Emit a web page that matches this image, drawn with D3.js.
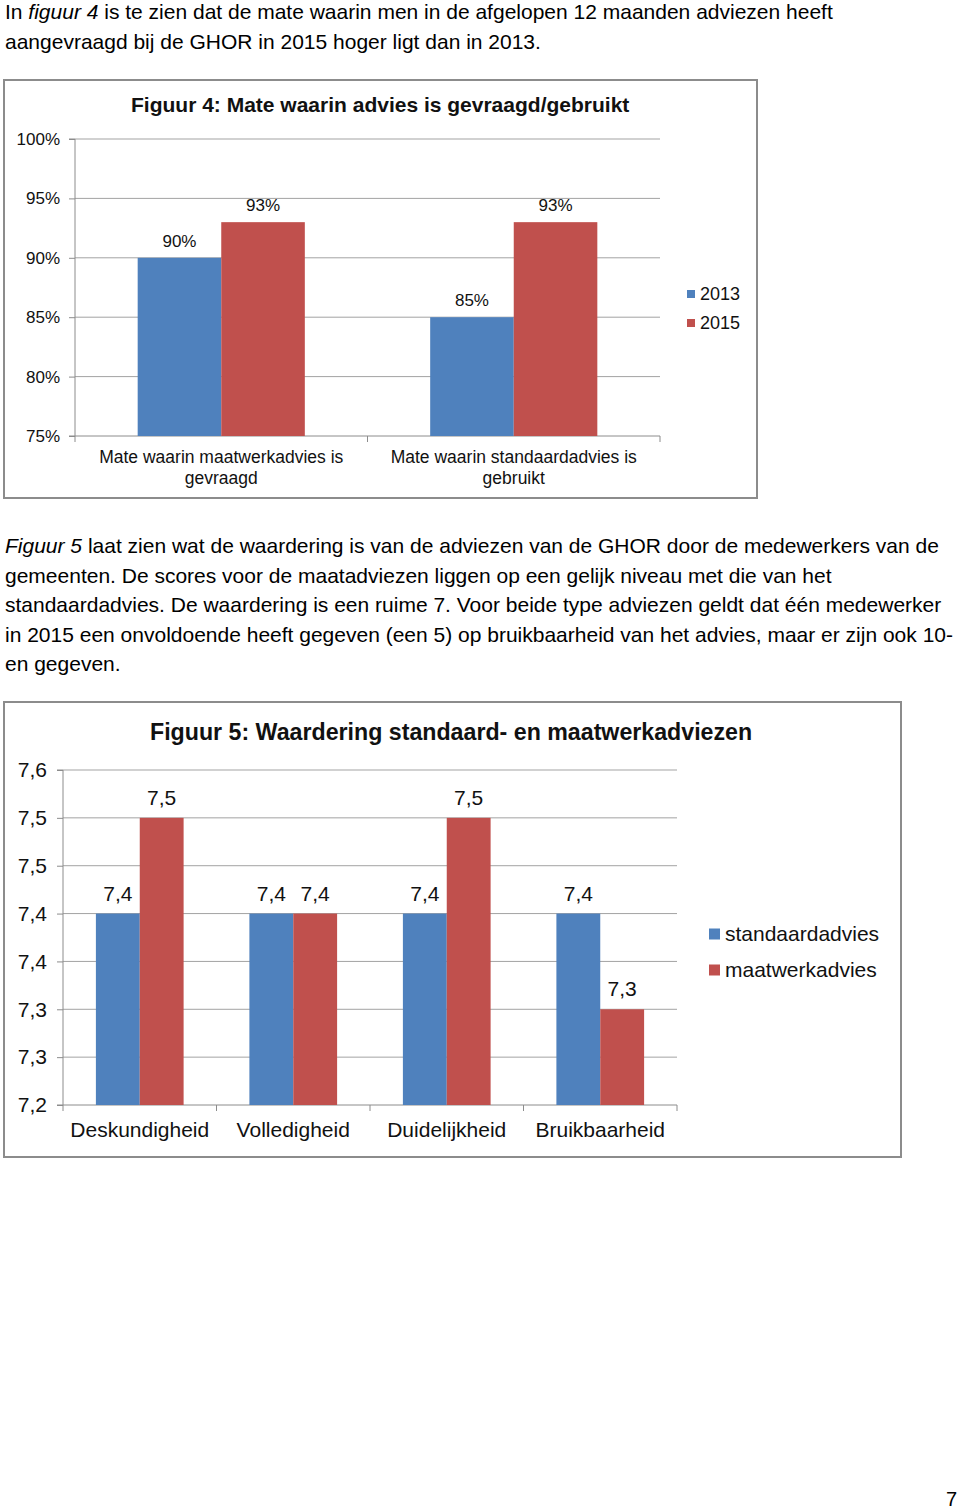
<!DOCTYPE html>
<html>
<head>
<meta charset="utf-8">
<script src="https://cdn.jsdelivr.net/npm/d3@7"></script>
<style>
  html, body { margin: 0; padding: 0; background: #fff; }
  svg { display: block; font-family: "Liberation Sans", Arial, sans-serif; }
</style>
</head>
<body>
<svg id="page" width="960" height="1509"></svg>
<script>
// ---- data ----
const fig4Categories = [
    ["Mate waarin maatwerkadvies is", "gevraagd"],
    ["Mate waarin standaardadvies is", "gebruikt"]
];
const fig4Series = ["2013", "2015"];
const fig4Values2013 = [90, 85];
const fig4Values2015 = [93, 93];
const fig4Ticks = [75, 80, 85, 90, 95, 100];
const fig4TickLabels = ["75%", "80%", "85%", "90%", "95%", "100%"];

const fig5Categories = [["Deskundigheid"], ["Volledigheid"], ["Duidelijkheid"], ["Bruikbaarheid"]];
const fig5Series = ["standaardadvies", "maatwerkadvies"];
const fig5Standaard = [7.4, 7.4, 7.4, 7.4];
const fig5Maatwerk = [7.5, 7.4, 7.5, 7.3];
const fig5Ticks = [7.2, 7.25, 7.3, 7.35, 7.4, 7.45, 7.5, 7.55];
const fig5TickLabels = ["7,2", "7,3", "7,3", "7,4", "7,4", "7,5", "7,5", "7,6"];

const colors = ["#4f81bd", "#c0504d"];

const svg = d3.select("#page");

// ---- body text ----
const paragraphs = [
    { x: 5, y: 19, lh: 29.5, lines: [
        [["In ", false], ["figuur 4", true], [" is te zien dat de mate waarin men in de afgelopen 12 maanden adviezen heeft", false]],
        [["aangevraagd bij de GHOR in 2015 hoger ligt dan in 2013.", false]]
    ]},
    { x: 5, y: 553, lh: 29.6, lines: [
        [["Figuur 5", true], [" laat zien wat de waardering is van de adviezen van de GHOR door de medewerkers van de", false]],
        [["gemeenten. De scores voor de maatadviezen liggen op een gelijk niveau met die van het", false]],
        [["standaardadvies. De waardering is een ruime 7. Voor beide type adviezen geldt dat één medewerker", false]],
        [["in 2015 een onvoldoende heeft gegeven (een 5) op bruikbaarheid van het advies, maar er zijn ook 10-", false]],
        [["en gegeven.", false]]
    ]}
];

paragraphs.forEach(p => {
    p.lines.forEach((line, i) => {
        const t = svg.append("text")
            .attr("x", p.x)
            .attr("y", p.y + i * p.lh)
            .attr("font-size", 21)
            .attr("fill", "#000");
        line.forEach(([str, italic]) => {
            t.append("tspan")
                .attr("font-style", italic ? "italic" : "normal")
                .text(str);
        });
    });
});

svg.append("text")
    .attr("x", 957).attr("y", 1506)
    .attr("text-anchor", "end")
    .attr("font-size", 20)
    .text("7");

// ---- chart drawing ----
const drawChart = (cfg) => {
    const g = svg.append("g");

    g.append("rect")
        .attr("x", cfg.box[0]).attr("y", cfg.box[1])
        .attr("width", cfg.box[2]).attr("height", cfg.box[3])
        .attr("fill", "#fff")
        .attr("stroke", "#8c8c8c")
        .attr("stroke-width", 2);

    g.append("text")
        .attr("x", cfg.titleX).attr("y", cfg.titleY)
        .attr("font-size", cfg.titleSize)
        .attr("font-weight", "bold")
        .attr("fill", "#111")
        .text(cfg.title);

    const y = d3.scaleLinear().domain(d3.extent(cfg.ticks)).range([cfg.bottom, cfg.top]);
    const x0 = d3.scaleBand().domain(d3.range(cfg.categories.length)).range([cfg.left, cfg.right]);
    const w = x0.bandwidth() / 3.5;
    const x1 = d3.scaleBand().domain(d3.range(cfg.series.length)).range([0.75 * w, x0.bandwidth() - 0.75 * w]);

    // gridlines
    g.append("g").selectAll("line")
        .data(cfg.ticks.slice(1))
        .enter()
        .append("line")
        .attr("x1", cfg.left).attr("x2", cfg.right)
        .attr("y1", d => y(d)).attr("y2", d => y(d))
        .attr("stroke", "#a3a3a3")
        .attr("stroke-width", 1);

    // y axis
    const yAxis = g.append("g")
        .attr("transform", `translate(${cfg.left},0)`)
        .call(d3.axisLeft(y)
            .tickValues(cfg.ticks)
            .tickSize(6)
            .tickPadding(cfg.tickPad)
            .tickFormat((d, i) => cfg.tickLabels[i]));
    yAxis.select(".domain").attr("stroke", "#8c8c8c").attr("d", `M-6,${cfg.top}H0V${cfg.bottom}H-6`);
    yAxis.selectAll(".tick line").attr("stroke", "#8c8c8c");
    yAxis.selectAll(".tick text")
        .attr("font-size", cfg.labelSize)
        .attr("font-family", "Liberation Sans, Arial, sans-serif")
        .attr("fill", "#111");

    // x axis line with category separators
    g.append("line")
        .attr("x1", cfg.left).attr("x2", cfg.right)
        .attr("y1", cfg.bottom).attr("y2", cfg.bottom)
        .attr("stroke", "#8c8c8c");
    g.append("g").selectAll("line")
        .data(d3.range(cfg.categories.length + 1))
        .enter()
        .append("line")
        .attr("x1", d => d < cfg.categories.length ? x0(d) : cfg.right)
        .attr("x2", d => d < cfg.categories.length ? x0(d) : cfg.right)
        .attr("y1", cfg.bottom).attr("y2", cfg.bottom + 6)
        .attr("stroke", "#8c8c8c");

    // bars
    cfg.values.forEach((vals, s) => {
        g.append("g").selectAll("rect")
            .data(vals)
            .enter()
            .append("rect")
            .attr("x", (d, i) => x0(i) + x1(s))
            .attr("y", d => y(d))
            .attr("width", x1.bandwidth())
            .attr("height", d => cfg.bottom - y(d))
            .attr("fill", colors[s]);

        g.append("g").selectAll("text")
            .data(vals)
            .enter()
            .append("text")
            .attr("x", (d, i) => x0(i) + x1(s) + x1.bandwidth() / 2)
            .attr("y", d => y(d) - cfg.valueGap)
            .attr("text-anchor", "middle")
            .attr("font-size", cfg.labelSize)
            .attr("fill", "#111")
            .text(d => cfg.valueFormat(d));
    });

    // category labels
    cfg.categories.forEach((lines, i) => {
        const t = g.append("text")
            .attr("text-anchor", "middle")
            .attr("font-size", cfg.catSize)
            .attr("fill", "#111");
        lines.forEach((ln, j) => {
            t.append("tspan")
                .attr("x", x0(i) + x0.bandwidth() / 2)
                .attr("y", cfg.catY + j * cfg.catLh)
                .text(ln);
        });
    });

    // legend
    const leg = g.append("g").selectAll("g")
        .data(cfg.series)
        .enter()
        .append("g")
        .attr("transform", (d, i) => `translate(${cfg.legendX},${cfg.legendY + i * cfg.legendLh})`);
    leg.append("rect")
        .attr("x", 0).attr("y", -cfg.legendSq / 2)
        .attr("width", cfg.legendSq).attr("height", cfg.legendSq)
        .attr("fill", (d, i) => colors[i]);
    leg.append("text")
        .attr("x", cfg.legendSq + 5)
        .attr("dy", "0.35em")
        .attr("font-size", cfg.legendSize)
        .attr("fill", "#111")
        .text(d => d);
};

drawChart({
    box: [4, 80, 753, 418],
    title: "Figuur 4: Mate waarin advies is gevraagd/gebruikt",
    titleX: 131, titleY: 112, titleSize: 21,
    left: 75, right: 660, top: 139, bottom: 436,
    ticks: fig4Ticks, tickLabels: fig4TickLabels, tickPad: 9,
    categories: fig4Categories, series: fig4Series,
    values: [fig4Values2013, fig4Values2015],
    valueFormat: d => d + "%",
    labelSize: 17, catSize: 17.5, valueGap: 11,
    catY: 463, catLh: 21,
    legendX: 687, legendY: 294, legendLh: 29, legendSq: 8, legendSize: 18
});

drawChart({
    box: [4, 702, 897, 455],
    title: "Figuur 5: Waardering standaard- en maatwerkadviezen",
    titleX: 150, titleY: 740, titleSize: 23.2,
    left: 63, right: 677, top: 770, bottom: 1105,
    ticks: fig5Ticks, tickLabels: fig5TickLabels, tickPad: 10,
    categories: fig5Categories, series: fig5Series,
    values: [fig5Standaard, fig5Maatwerk],
    valueFormat: d => d3.format(".1f")(d).replace(".", ","),
    labelSize: 21, catSize: 21, valueGap: 13,
    catY: 1137, catLh: 22,
    legendX: 709, legendY: 934, legendLh: 36, legendSq: 11, legendSize: 21
});
</script>
</body>
</html>
